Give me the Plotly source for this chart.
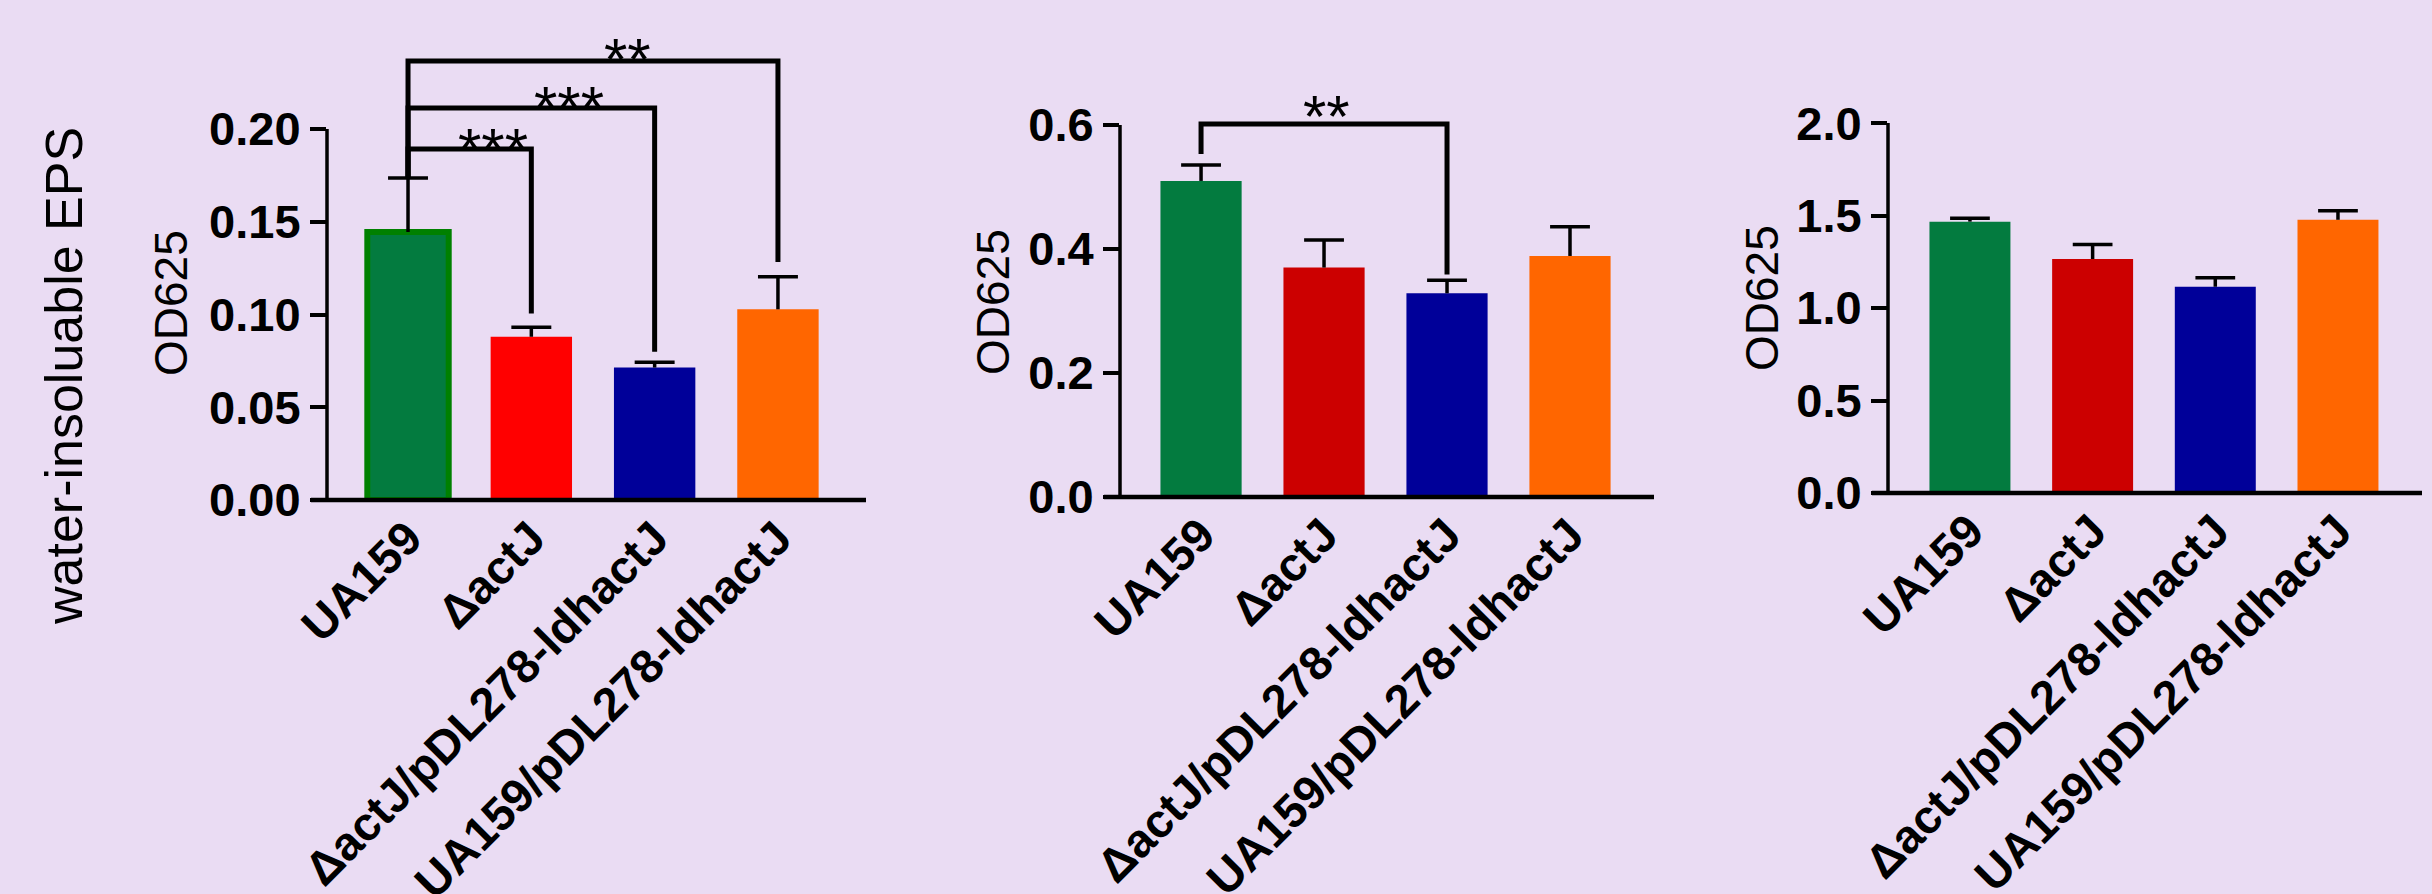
import plotly.graph_objects as go

# ---------------- data ----------------
categories = ["UA159", "ΔactJ", "ΔactJ/pDL278-ldhactJ", "UA159/pDL278-ldhactJ"]

eps_means = [0.1445, 0.0880, 0.0714, 0.1028]
eps_errs = [0.0291, 0.0051, 0.0028, 0.0175]

p2_means = [0.5097, 0.3700, 0.3285, 0.3887]
p2_errs = [0.0258, 0.0445, 0.0210, 0.0473]

p3_means = [1.467, 1.265, 1.115, 1.477]
p3_errs = [0.018, 0.079, 0.049, 0.049]

# significance brackets: (from_idx, to_idx, top, left_bottom, right_bottom, label, label_x, label_y)
p1_brackets = [
    (0, 1, 0.1892, 0.1736, 0.1005, "***", 0.69, 0.1946),
    (0, 2, 0.2113, 0.1736, 0.0799, "***", 1.305, 0.2170),
    (0, 3, 0.2367, 0.1736, 0.1283, "**", 1.776, 0.2431),
]
p2_brackets = [
    (0, 2, 0.6016, 0.5530, 0.3590, "**", 1.02, 0.6290),
]

p1_ticks = [0.00, 0.05, 0.10, 0.15, 0.20]
p2_ticks = [0.0, 0.2, 0.4, 0.6]
p3_ticks = [0.0, 0.5, 1.0, 1.5, 2.0]

# ---------------- style ----------------
W, H = 2432, 894
BG = "#EADCF3"
GREEN = "#037B3F"
RED1 = "#FF0000"
RED2 = "#CC0000"
BLUE = "#000099"
ORANGE = "#FF6600"
FONT = "Liberation Sans, Arial, sans-serif"
CAP = 0.162  # half cap width in category units
TICK_FS = 47

def fx(p):
    return p / W

def fy(p):
    return 1 - p / H

panels = [
    dict(means=eps_means, errs=eps_errs, colors=[GREEN, RED1, BLUE, ORANGE],
         xdom=(327, 866), xr=(-0.657, 3.714), ydom=(500, 40), ytop=0.248,
         ticks=p1_ticks, fmt="{:.2f}", brackets=p1_brackets, green_line=True,
         title_x=171, title_y=303),
    dict(means=p2_means, errs=p2_errs, colors=[GREEN, RED2, BLUE, ORANGE],
         xdom=(1120, 1654), xr=(-0.659, 3.683), ydom=(497, 40), ytop=0.737,
         ticks=p2_ticks, fmt="{:.1f}", brackets=p2_brackets, green_line=False,
         title_x=993, title_y=302),
    dict(means=p3_means, errs=p3_errs, colors=[GREEN, RED2, BLUE, ORANGE],
         xdom=(1888, 2422), xr=(-0.668, 3.685), ydom=(493, 40), ytop=2.449,
         ticks=p3_ticks, fmt="{:.1f}", brackets=[], green_line=False,
         title_x=1762, title_y=298),
]

fig = go.Figure()
shapes = []
annotations = []
layout = {}

xs = list(range(len(categories)))

for i, p in enumerate(panels, start=1):
    xa = "x" if i == 1 else f"x{i}"
    ya = "y" if i == 1 else f"y{i}"
    line_w = [6 if (p["green_line"] and k == 0) else 0 for k in xs]
    fig.add_trace(go.Bar(
        x=xs, y=p["means"], width=0.66,
        marker=dict(color=p["colors"], line=dict(color=["#008000", "#000", "#000", "#000"], width=line_w)),
        xaxis=xa, yaxis=ya, showlegend=False, hoverinfo="skip",
    ))
    # upper-only error bars with caps
    ex, ey = [], []
    for k, m, e in zip(xs, p["means"], p["errs"]):
        ex += [k, k, None, k - CAP, k + CAP, None]
        ey += [m, m + e, None, m + e, m + e, None]
    fig.add_trace(go.Scatter(
        x=ex, y=ey, mode="lines", line=dict(color="black", width=3.5),
        xaxis=xa, yaxis=ya, showlegend=False, hoverinfo="skip",
    ))
    for (a, b, top, lb, rb, lab, lx, ly) in p["brackets"]:
        fig.add_trace(go.Scatter(
            x=[a, a, b, b], y=[lb, top, top, rb], mode="lines",
            line=dict(color="black", width=5), xaxis=xa, yaxis=ya,
            showlegend=False, hoverinfo="skip",
        ))
        annotations.append(dict(
            x=lx, y=ly, xref=xa, yref=ya, text=lab, showarrow=False,
            font=dict(family=FONT, size=60, color="black"),
            xanchor="center", yanchor="middle", yshift=-10,
        ))

    x0, x1 = p["xdom"]
    yb, yt = p["ydom"]
    layout["xaxis" if i == 1 else f"xaxis{i}"] = dict(
        domain=[fx(x0), fx(x1)], range=list(p["xr"]), anchor=ya,
        tickvals=xs, ticktext=categories, tickangle=-45, automargin=False,
        tickfont=dict(family=FONT, size=TICK_FS, color="black", weight="bold"),
        showline=False, ticks="", showgrid=False, zeroline=False, fixedrange=True,
    )
    layout["yaxis" if i == 1 else f"yaxis{i}"] = dict(
        domain=[fy(yb), fy(yt)], range=[0, p["ytop"]], anchor=xa, automargin=False,
        tickvals=p["ticks"], ticktext=[p["fmt"].format(t) for t in p["ticks"]],
        ticks="outside", ticklen=16, tickwidth=3.5, tickcolor="black",
        tickfont=dict(family=FONT, size=TICK_FS, color="black", weight="bold"),
        showline=False, showgrid=False, zeroline=False, fixedrange=True,
    )
    # axis lines (x axis extends left to the tick end; y axis stops at the top tick)
    y_top_tick = fy(yb) + (fy(yt) - fy(yb)) * (p["ticks"][-1] / p["ytop"])
    shapes.append(dict(type="line", xref="paper", yref="paper",
                       x0=fx(x0 - 16), x1=fx(x1), y0=fy(yb), y1=fy(yb),
                       line=dict(color="black", width=4.5)))
    shapes.append(dict(type="line", xref="paper", yref="paper",
                       x0=fx(x0), x1=fx(x0), y0=fy(yb), y1=y_top_tick,
                       line=dict(color="black", width=3.5)))
    annotations.append(dict(
        x=fx(p["title_x"]), y=fy(p["title_y"]), xref="paper", yref="paper",
        text="OD625", textangle=-90, showarrow=False,
        font=dict(family=FONT, size=46, color="black"),
        xanchor="center", yanchor="middle",
    ))

annotations.append(dict(
    x=fx(64), y=fy(376), xref="paper", yref="paper",
    text="water-insoluable EPS", textangle=-90, showarrow=False,
    font=dict(family=FONT, size=52, color="black"),
    xanchor="center", yanchor="middle",
))

fig.update_layout(
    width=W, height=H, margin=dict(l=0, r=0, t=0, b=0, autoexpand=False),
    paper_bgcolor=BG, plot_bgcolor=BG,
    shapes=shapes, annotations=annotations, bargap=0.34,
    **layout,
)

fig.write_html(
    "out.html", include_plotlyjs=True, config={"displayModeBar": False},
    post_script="document.body.style.margin='0';document.body.style.overflow='hidden';",
)
